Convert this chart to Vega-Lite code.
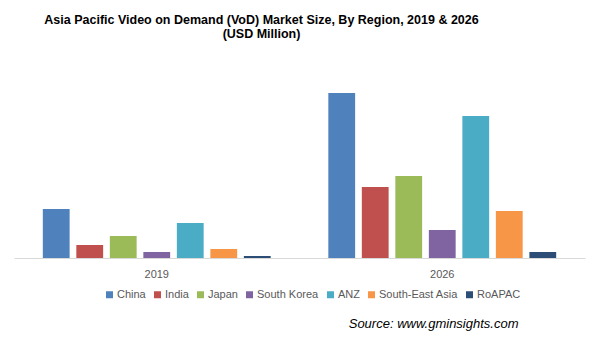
{
  "$schema": "https://vega.github.io/schema/vega-lite/v6.json",
  "width": 571,
  "height": 198,
  "autosize": {"type": "none"},
  "padding": {"left": 14, "top": 60, "right": 14, "bottom": 80},
  "background": "white",
  "title": {
    "text": ["Asia Pacific Video on Demand (VoD) Market Size, By Region, 2019 & 2026", "(USD Million)"],
    "font": "Liberation Sans Narrow, Arial Narrow, Liberation Sans, Arial",
    "fontSize": 12.5,
    "fontWeight": "bold",
    "color": "#000000",
    "lineHeight": 14,
    "anchor": "middle",
    "dx": -38,
    "offset": 20
  },
  "data": {
    "values": [
      {"Year": "2019", "Region": "China", "Value": 980},
      {"Year": "2019", "Region": "India", "Value": 260},
      {"Year": "2019", "Region": "Japan", "Value": 440},
      {"Year": "2019", "Region": "South Korea", "Value": 120},
      {"Year": "2019", "Region": "ANZ", "Value": 700},
      {"Year": "2019", "Region": "South-East Asia", "Value": 180},
      {"Year": "2019", "Region": "RoAPAC", "Value": 40},
      {"Year": "2026", "Region": "China", "Value": 3300},
      {"Year": "2026", "Region": "India", "Value": 1420},
      {"Year": "2026", "Region": "Japan", "Value": 1640},
      {"Year": "2026", "Region": "South Korea", "Value": 560},
      {"Year": "2026", "Region": "ANZ", "Value": 2840},
      {"Year": "2026", "Region": "South-East Asia", "Value": 940},
      {"Year": "2026", "Region": "RoAPAC", "Value": 120}
    ]
  },
  "mark": {"type": "bar"},
  "encoding": {
    "x": {
      "field": "Year",
      "type": "nominal",
      "scale": {"paddingInner": 0, "paddingOuter": 0},
      "axis": {
        "title": "Source: www.gminsights.com",
        "titleFont": "Liberation Sans, Arial",
        "titleFontStyle": "italic",
        "titleFontWeight": "normal",
        "titleFontSize": 13,
        "titleColor": "#000000",
        "titleAlign": "right",
        "titleAnchor": "end",
        "titleX": 504,
        "titleY": 69,
        "titleBaseline": "alphabetic",
        "labelAngle": 0,
        "labelFont": "Liberation Sans, Arial",
        "labelFontSize": 11,
        "labelColor": "#595959",
        "labelPadding": 10,
        "ticks": false,
        "domainColor": "#d9d9d9",
        "domainWidth": 1
      }
    },
    "xOffset": {
      "field": "Region",
      "type": "nominal",
      "sort": ["China", "India", "Japan", "South Korea", "ANZ", "South-East Asia", "RoAPAC"],
      "scale": {"paddingInner": 0.2, "paddingOuter": 0.86}
    },
    "y": {
      "field": "Value",
      "type": "quantitative",
      "scale": {"domain": [0, 3960]},
      "axis": null
    },
    "color": {
      "field": "Region",
      "type": "nominal",
      "sort": ["China", "India", "Japan", "South Korea", "ANZ", "South-East Asia", "RoAPAC"],
      "scale": {
        "domain": ["China", "India", "Japan", "South Korea", "ANZ", "South-East Asia", "RoAPAC"],
        "range": ["#4F81BD", "#C0504D", "#9BBB59", "#8064A2", "#4BACC6", "#F79646", "#2C4D75"]
      },
      "legend": {
        "title": null,
        "orient": "none",
        "direction": "horizontal",
        "columns": 7,
        "legendX": 90,
        "legendY": 229,
        "symbolType": "square",
        "symbolSize": 49,
        "symbolStrokeWidth": 0,
        "labelFont": "Liberation Sans, Arial",
        "labelFontSize": 11,
        "labelColor": "#595959",
        "labelOffset": 2,
        "columnPadding": 6,
        "padding": 0
      }
    }
  },
  "config": {
    "view": {"stroke": null},
    "axis": {"grid": false}
  }
}
